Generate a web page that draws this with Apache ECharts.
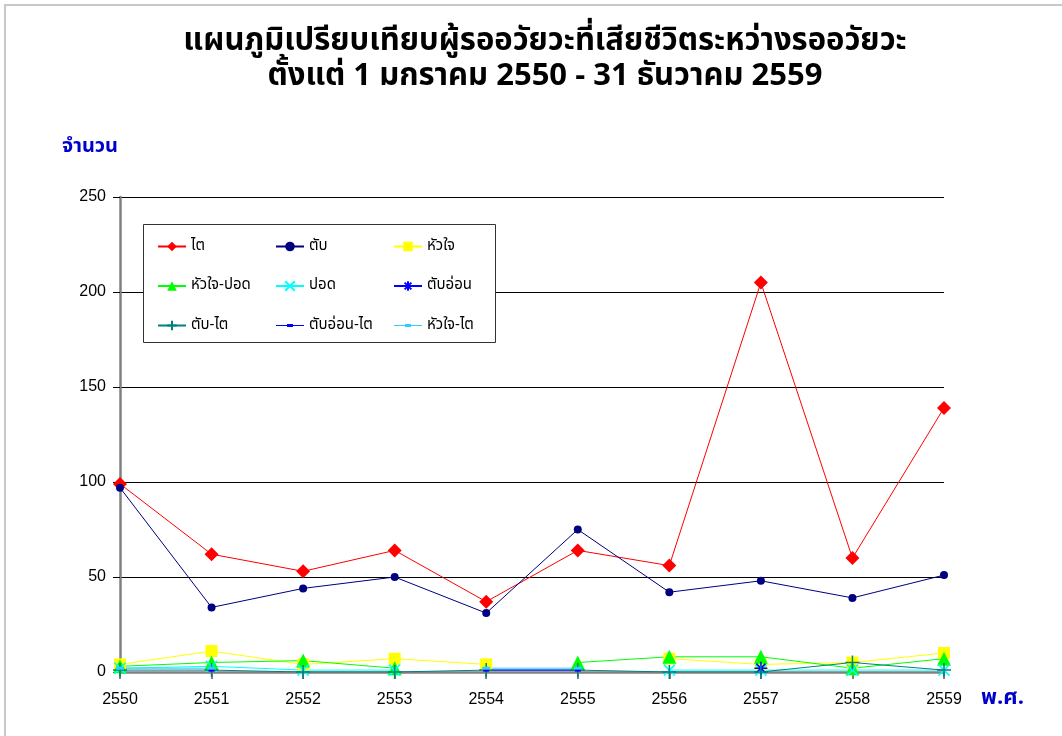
<!DOCTYPE html>
<html>
<head>
<meta charset="utf-8">
<script src="https://cdn.jsdelivr.net/npm/echarts@6/dist/echarts.min.js"></script>
<style>
html,body{margin:0;padding:0;background:#fff;}
#chart{width:1062px;height:736px;}
</style>
</head>
<body>
<div id="chart"></div>
<script>
// ---- data ----
var years = ['2550','2551','2552','2553','2554','2555','2556','2557','2558','2559'];
var yTicks = [0, 50, 100, 150, 200, 250];
var kidney        = [99, 62, 53, 64, 37, 64, 56, 205, 60, 139];   // ไต
var liver         = [97, 34, 44, 50, 31, 75, 42, 48, 39, 51];     // ตับ
var heart         = [4, 11, 4, 7, 4, null, 7, 4, 5, 10];          // หัวใจ
var heartLung     = [3, 5, 6, 2, null, 5, 8, 8, 2, 7];            // หัวใจ-ปอด
var lung          = [2, 3, 1, 1, null, null, 1, 1, 1, 1];         // ปอด
var pancreas      = [null, null, null, null, null, null, null, 2, null, null]; // ตับอ่อน
var liverKidney   = [1, 1, 0, 0, 1, 1, 0, 0, 5, 1];               // ตับ-ไต
var pancKidney    = [null, 1, null, null, 1, 1, null, null, null, null]; // ตับอ่อน-ไต
var heartKidney   = [2, 2, null, null, 2, 2, null, null, null, null];    // หัวใจ-ไต

var THAI = 'Tahoma, "Noto Sans Thai", "Noto Sans", "DejaVu Sans", sans-serif';
var LAT = '"Liberation Sans", Arial, sans-serif';

var chart = echarts.init(document.getElementById('chart'));

function mk(name, data, color, symbol, size, extra) {
  var s = {
    name: name, type: 'line', data: data,
    symbol: symbol, symbolSize: size,
    lineStyle: {color: color, width: 1},
    itemStyle: {color: color},
    connectNulls: false,
    animation: false
  };
  if (extra) { for (var k in extra) s[k] = extra[k]; }
  return s;
}

var xPath = 'path://M0,0L10,10M10,0L0,10';
var astPath = 'path://M5,0L5,10M0,5L10,5M1.5,1.5L8.5,8.5M8.5,1.5L1.5,8.5';
var plusPath = 'path://M5,0L5,10M0,5L10,5';
var dashIcon = 'path://M0,4.6L28,4.6L28,5.4L0,5.4Z M11,3.6L17,3.6L17,6.4L11,6.4Z';

var series = [
  mk('ไต', kidney, '#ff0000', 'diamond', 14),
  mk('ตับ', liver, '#000080', 'circle', 8),
  mk('หัวใจ', heart, '#ffff00', 'rect', 12),
  mk('หัวใจ-ปอด', heartLung, '#00ff00', 'triangle', 14),
  mk('ปอด', lung, '#00ffff', xPath, 11, {itemStyle: {color: '#00ffff', borderColor: '#00ffff', borderWidth: 1.5}}),
  mk('ตับอ่อน', pancreas, '#0000ff', astPath, 13, {itemStyle: {color: '#0000ff', borderColor: '#0000ff', borderWidth: 1.5}}),
  mk('ตับ-ไต', liverKidney, '#008080', plusPath, 14, {itemStyle: {color: '#008080', borderColor: '#008080', borderWidth: 1.5}}),
  mk('ตับอ่อน-ไต', pancKidney, '#0000ff', 'rect', [6, 3]),
  mk('หัวใจ-ไต', heartKidney, '#33ccff', 'rect', [8, 3])
];

function legendCol(left, items) {
  return {
    orient: 'vertical', left: left, top: 234,
    itemWidth: 28, itemHeight: 12, itemGap: 24.5,
    textStyle: {fontFamily: THAI, fontSize: 15, color: '#000'},
    data: items, selectedMode: false, z: 10
  };
}

chart.setOption({
  backgroundColor: '#fff',
  animation: false,
  title: {
    text: 'แผนภูมิเปรียบเทียบผู้รออวัยวะที่เสียชีวิตระหว่างรออวัยวะ\nตั้งแต่ 1 มกราคม 2550 - 31 ธันวาคม 2559',
    left: 540, top: 21, textAlign: 'center',
    textStyle: {fontFamily: THAI, fontSize: 31, fontWeight: 'bold', color: '#000', lineHeight: 35}
  },
  graphic: [
    {type: 'rect', shape: {x: 5, y: 5, width: 1080, height: 760}, style: {fill: 'none', stroke: '#c8c8c8', lineWidth: 2}, z: 0, silent: true},
    {type: 'rect', shape: {x: 143.5, y: 224.5, width: 352, height: 118}, style: {fill: '#fff', stroke: '#333', lineWidth: 1}, z: 5, silent: true},
    {type: 'text', left: 62, top: 138, style: {text: 'จำนวน', font: 'bold 20px ' + THAI, fill: '#0000cc'}, z: 5},
    {type: 'text', left: 981, top: 689, style: {text: 'พ.ศ.', font: 'bold 22px ' + THAI, fill: '#0000cc'}, z: 5}
  ],
  legend: [
    legendCol(152, ['ไต', 'หัวใจ-ปอด', 'ตับ-ไต']),
    legendCol(270, ['ตับ', 'ปอด', {name: 'ตับอ่อน-ไต', icon: dashIcon}]),
    legendCol(388, ['หัวใจ', 'ตับอ่อน', {name: 'หัวใจ-ไต', icon: dashIcon}])
  ],
  grid: {left: 120, right: 118, top: 197, bottom: 64, containLabel: false},
  xAxis: {
    type: 'category', data: years, boundaryGap: false,
    axisLine: {lineStyle: {color: '#808080', width: 2.5}},
    axisTick: {show: true, length: 7, lineStyle: {color: '#808080', width: 2}},
    axisLabel: {fontFamily: LAT, fontSize: 16, color: '#000', margin: 20},
    splitLine: {show: false}
  },
  yAxis: {
    type: 'value', min: yTicks[0], max: yTicks[yTicks.length - 1], interval: 50,
    axisLine: {show: true, lineStyle: {color: '#808080', width: 2.5}},
    axisTick: {show: true, length: 7, lineStyle: {color: '#000', width: 1}},
    axisLabel: {fontFamily: LAT, fontSize: 16, color: '#000', margin: 14},
    splitLine: {show: true, lineStyle: {color: '#000', width: 1}}
  },
  series: series
});
</script>
</body>
</html>
